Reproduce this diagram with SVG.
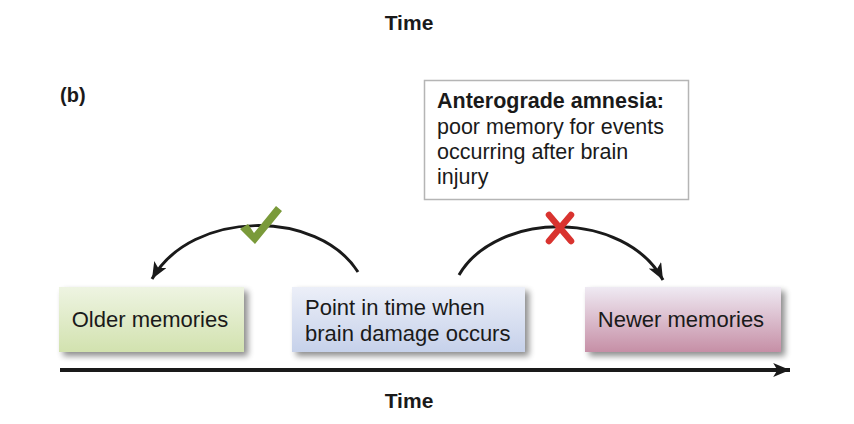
<svg xmlns="http://www.w3.org/2000/svg" width="854" height="424" viewBox="0 0 854 424">
<defs>
<style>
.t{font-family:"Liberation Sans",Arial,sans-serif;fill:#1a1a1a}
.b{font-weight:bold}
.arc{fill:none;stroke:#1a1a1a;stroke-width:3}
</style>
<linearGradient id="gG" x1="0" y1="0" x2="0" y2="1"><stop offset="0" stop-color="#eef4e2"/><stop offset="1" stop-color="#d2e2af"/></linearGradient>
<linearGradient id="gB" x1="0" y1="0" x2="0" y2="1"><stop offset="0" stop-color="#eceff8"/><stop offset="1" stop-color="#c6d1ea"/></linearGradient>
<linearGradient id="gP" x1="0" y1="0" x2="0" y2="1"><stop offset="0" stop-color="#efeaf3"/><stop offset="1" stop-color="#c68fa6"/></linearGradient>
<filter id="sh" x="-10%" y="-10%" width="130%" height="140%"><feGaussianBlur in="SourceAlpha" stdDeviation="3"/><feOffset dx="4" dy="4"/><feComponentTransfer><feFuncA type="linear" slope="0.45"/></feComponentTransfer><feMerge><feMergeNode/><feMergeNode in="SourceGraphic"/></feMerge></filter>
<marker id="ah2" viewBox="0 0 12 10" refX="12" refY="5" markerWidth="18" markerHeight="14" orient="auto" markerUnits="userSpaceOnUse"><path d="M0,0 L12,5 L0,10 L3,5 Z" fill="#1a1a1a"/></marker>
</defs>
<rect width="854" height="424" fill="#ffffff"/>
<text class="t b" x="409" y="30" font-size="21" text-anchor="middle">Time</text>
<text class="t b" x="60" y="102" font-size="20">(b)</text>

<g id="annotation">
<rect x="424.5" y="80.5" width="264" height="119" fill="#ffffff" stroke="#b5b5b5" stroke-width="1.5"/>
<text class="t" font-size="21.5"><tspan class="b" x="437" y="108">Anterograde amnesia:</tspan><tspan x="437" y="134">poor memory for events</tspan><tspan x="437" y="159">occurring after brain</tspan><tspan x="437" y="184">injury</tspan></text>
</g>

<g id="older">
<rect x="59" y="287" width="185" height="65" fill="url(#gG)" filter="url(#sh)"/>
<text class="t" x="150" y="327" font-size="22" text-anchor="middle">Older memories</text>
</g>
<g id="point">
<rect x="292" y="287" width="233" height="65" fill="url(#gB)" filter="url(#sh)"/>
<text class="t" font-size="22"><tspan x="305" y="315">Point in time when</tspan><tspan x="305" y="341">brain damage occurs</tspan></text>
</g>
<g id="newer">
<rect x="585" y="287" width="196" height="65" fill="url(#gP)" filter="url(#sh)"/>
<text class="t" x="681" y="327" font-size="22" text-anchor="middle">Newer memories</text>
</g>

<g id="connectors">
<path class="arc" d="M358,272 C318,209 192,209 152,279" marker-end="url(#ah2)"/>
<path class="arc" d="M459,275 C497,210 625,210 663,280" marker-end="url(#ah2)"/>
<line x1="60" y1="370" x2="790" y2="370" stroke="#1a1a1a" stroke-width="4" marker-end="url(#ah2)"/>
</g>

<g id="check">
<path d="M240,229 L248,224 L254,233 L276,206 L282,211 L255,244 Z" fill="#7a9a3a"/>
</g>
<g id="cross">
<line x1="549" y1="215" x2="571" y2="241" stroke="#d9332f" stroke-width="6.5" stroke-linecap="round"/>
<line x1="571" y1="215" x2="549" y2="241" stroke="#d9332f" stroke-width="6.5" stroke-linecap="round"/>
</g>

<text class="t b" x="409" y="408" font-size="21" text-anchor="middle">Time</text>
</svg>
